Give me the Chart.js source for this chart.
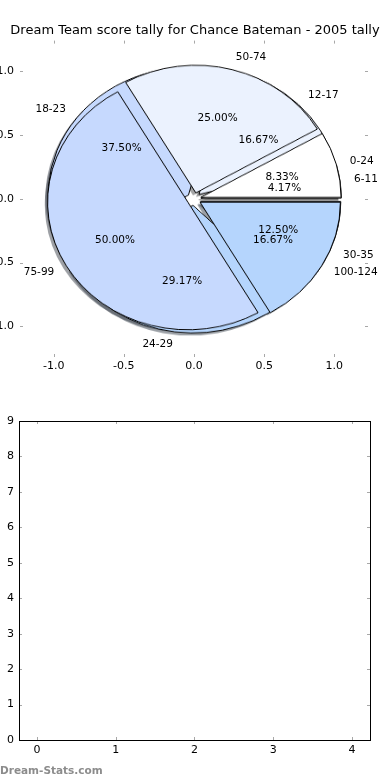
<!DOCTYPE html>
<html>
<head>
<meta charset="utf-8">
<script src="https://cdn.jsdelivr.net/npm/chart.js@4.4.0/dist/chart.umd.min.js"></script>
<style>
  html, body { margin: 0; padding: 0; background: #fff; overflow: hidden; }
  #page { position: relative; width: 390px; height: 780px; overflow: hidden; }
  #page canvas { position: absolute; }
  #pieAxes { left: 0; top: 0; z-index: 2; }
  #pieWrap { position: absolute; z-index: 1; }
  #pieWrap canvas { left: 0; top: 0; }
  #emptyAxes { left: 0; top: 380px; }
  #mark { position: absolute; left: 0; top: 764px; line-height: 12px;
          font: bold 10.5px "DejaVu Sans"; color: #8c8c8c; }
</style>
</head>
<body>
<div id="page">
  <div id="pieWrap">
    <canvas id="pieB"></canvas>
    <canvas id="pieA"></canvas>
  </div>
  <canvas id="pieAxes" width="390" height="380"></canvas>
  <canvas id="emptyAxes" width="390" height="400"></canvas>
  <div id="mark">Dream-Stats.com</div>
</div>
<script>
const chartTitle = 'Dream Team score tally for Chance Bateman - 2005 tally';

// pie drawn on top
const topPieLabels = ['0-24', '50-74', '75-99', '100-124'];
const topPieCounts = [1, 3, 6, 2];

// pie drawn underneath
const lowPieLabels = ['6-11', '12-17', '18-23', '24-29', '30-35'];
const lowPieCounts = [1, 4, 9, 7, 3];

const pieTicks = [-1.0, -0.5, 0.0, 0.5, 1.0];
const emptyXTicks = [0, 1, 2, 3, 4];
const emptyYTicks = [0, 1, 2, 3, 4, 5, 6, 7, 8, 9];

const sliceColors = ['#ffffff', '#ebf2fe', '#c6d9fe', '#b5d5fd', '#a6c9f9'];
const explode = 0.05;
const labelDist = 1.1;
const pctDist = 0.6;
const shadowOff = 0.02;
const FONT = 'DejaVu Sans';

// inward tick marks, like the old matplotlib style
function tickMarks(framed) {
    return {
        id: 'tickMarks',
        afterDraw(chart) {
            const {ctx, chartArea: a, scales: {x, y}} = chart;
            ctx.save();
            ctx.strokeStyle = '#a8a8a8';
            ctx.lineWidth = 1;
            ctx.beginPath();
            x.ticks.forEach(t => {
                const px = Math.round(x.getPixelForValue(t.value)) + 0.5;
                ctx.moveTo(px, a.top); ctx.lineTo(px, a.top + 3);
                ctx.moveTo(px, a.bottom); ctx.lineTo(px, a.bottom - 3);
            });
            y.ticks.forEach(t => {
                const py = Math.round(y.getPixelForValue(t.value)) + 0.5;
                ctx.moveTo(a.left, py); ctx.lineTo(a.left + 3, py);
                ctx.moveTo(a.right, py); ctx.lineTo(a.right - 3, py);
            });
            ctx.stroke();
            if (framed) {
                ctx.strokeStyle = '#000';
                ctx.strokeRect(Math.round(a.left) + 0.5, Math.round(a.top) + 0.5,
                    Math.round(a.right - a.left), Math.round(a.bottom - a.top));
            }
            ctx.restore();
        }
    };
}

// slice names and percentages, placed in data units like matplotlib does
const pieText = {
    id: 'pieText',
    afterDraw(chart) {
        const {ctx, scales: {x, y}} = chart;
        ctx.save();
        ctx.font = '10.5px "' + FONT + '"';
        ctx.fillStyle = '#000';
        ctx.textBaseline = 'middle';
        [[lowPieLabels, lowPieCounts], [topPieLabels, topPieCounts]].forEach(([labels, counts]) => {
            const total = counts.reduce((s, v) => s + v, 0);
            let start = 0;
            counts.forEach((v, i) => {
                const mid = (start + v / 2) / total * 2 * Math.PI;
                start += v;
                const c = Math.cos(mid), s = Math.sin(mid);
                const lx = (labelDist + explode) * c;
                const ly = (labelDist + explode) * s;
                ctx.textAlign = lx > 0 ? 'left' : 'right';
                ctx.fillText(labels[i], x.getPixelForValue(lx), y.getPixelForValue(ly));
                ctx.textAlign = 'center';
                ctx.fillText((v / total * 100).toFixed(2) + '%',
                    x.getPixelForValue((pctDist + explode) * c),
                    y.getPixelForValue((pctDist + explode) * s));
            });
        });
        ctx.restore();
    }
};

function axisTicks(pad, fmt) {
    return {
        color: '#000',
        padding: pad,
        font: {family: FONT, size: 11},
        callback: fmt
    };
}

const axesChart = new Chart(document.getElementById('pieAxes'), {
    type: 'scatter',
    data: {datasets: []},
    options: {
        responsive: false,
        animation: false,
        events: [],
        layout: {padding: 0},
        plugins: {
            legend: {display: false},
            tooltip: {enabled: false},
            title: {
                display: true,
                text: chartTitle,
                color: '#000',
                font: {family: FONT, size: 13, weight: 'normal'},
                padding: {top: 23, bottom: 2}
            }
        },
        scales: {
            x: {
                type: 'linear', min: -1.24, max: 1.24,
                afterBuildTicks: s => { s.ticks = pieTicks.map(v => ({value: v})); },
                afterFit: s => { s.height = 23; },
                grid: {display: false, drawTicks: false},
                border: {display: false},
                ticks: axisTicks(3, v => v.toFixed(1))
            },
            y: {
                type: 'linear', min: -1.24, max: 1.24,
                afterBuildTicks: s => { s.ticks = pieTicks.map(v => ({value: v})); },
                afterFit: s => { s.width = 20; },
                grid: {display: false, drawTicks: false},
                border: {display: false},
                ticks: axisTicks(6, v => v.toFixed(1))
            },
            // empty strip on the right so the title centres on the whole figure
            yRight: {
                type: 'linear', position: 'right', min: -1.24, max: 1.24,
                afterFit: s => { s.width = 22; },
                grid: {display: false, drawTicks: false},
                border: {display: false},
                ticks: {display: false}
            }
        }
    },
    plugins: [tickMarks(false), pieText]
});

// geometry of the pie taken from the axes scales
const sx = axesChart.scales.x, sy = axesChart.scales.y;
const rx = sx.getPixelForValue(1) - sx.getPixelForValue(0);
const ry = sy.getPixelForValue(0) - sy.getPixelForValue(1);
const side = Math.round(axesChart.chartArea.right - axesChart.chartArea.left);
const wrap = document.getElementById('pieWrap');
wrap.style.width = side + 'px';
wrap.style.height = side + 'px';
wrap.style.left = (sx.getPixelForValue(0) - side / 2) + 'px';
wrap.style.top = (sy.getPixelForValue(0) - side / 2) + 'px';
wrap.style.transform = 'scaleY(' + (ry / rx) + ')';
['pieA', 'pieB'].forEach(id => {
    const c = document.getElementById(id);
    c.width = side; c.height = side;
});

function midAngle(arc) { return (arc.startAngle + arc.endAngle) / 2; }

// pull every wedge out along its middle, no radius change
const explodePlugin = {
    id: 'explode',
    beforeDatasetDraw(chart, args) {
        const ctx = chart.ctx;
        args.meta.data.forEach(arc => {
            const m = midAngle(arc), d = explode * arc.outerRadius;
            ctx.save();
            ctx.translate(Math.cos(m) * d, Math.sin(m) * d);
            arc.draw(ctx);
            ctx.restore();
        });
        return false;
    }
};

function shade(hex) {
    const n = parseInt(hex.slice(1), 16);
    const r = Math.round(((n >> 16) & 255) * 0.3);
    const g = Math.round(((n >> 8) & 255) * 0.3);
    const b = Math.round((n & 255) * 0.3);
    return 'rgba(' + r + ',' + g + ',' + b + ',0.5)';
}

function pieConfig(labels, counts, extra) {
    return {
        type: 'pie',
        data: {
            labels: labels.slice().reverse(),
            datasets: [{
                data: counts.slice().reverse(),
                backgroundColor: sliceColors.slice(0, counts.length).reverse(),
                borderColor: '#000',
                borderWidth: 1
            }]
        },
        options: {
            responsive: false,
            animation: false,
            events: [],
            rotation: 90,
            radius: rx,
            layout: {padding: 0},
            plugins: {legend: {display: false}, tooltip: {enabled: false}, title: {display: false}}
        },
        plugins: extra.concat([explodePlugin])
    };
}

const topPie = new Chart(document.getElementById('pieA'), pieConfig(topPieLabels, topPieCounts, []));

// all shadows sit under both pies
const shadowPlugin = {
    id: 'pieShadow',
    beforeDatasetDraw(chart, args) {
        const ctx = chart.ctx;
        const arcs = args.meta.data.concat(topPie.getDatasetMeta(0).data);
        arcs.forEach(arc => {
            const m = midAngle(arc), d = explode * arc.outerRadius;
            const cx = arc.x + Math.cos(m) * d - shadowOff * arc.outerRadius;
            const cy = arc.y + Math.sin(m) * d + shadowOff * arc.outerRadius;
            ctx.beginPath();
            ctx.moveTo(cx, cy);
            ctx.arc(cx, cy, arc.outerRadius, arc.startAngle, arc.endAngle);
            ctx.closePath();
            ctx.fillStyle = shade(arc.options.backgroundColor);
            ctx.fill();
        });
    }
};

const lowPie = new Chart(document.getElementById('pieB'), pieConfig(lowPieLabels, lowPieCounts, [shadowPlugin]));

new Chart(document.getElementById('emptyAxes'), {
    type: 'scatter',
    data: {datasets: []},
    options: {
        responsive: false,
        animation: false,
        events: [],
        layout: {padding: {left: 0, right: 20, top: 41, bottom: 0}},
        plugins: {legend: {display: false}, tooltip: {enabled: false}},
        scales: {
            x: {
                type: 'linear', min: -0.23, max: 4.23,
                afterBuildTicks: s => { s.ticks = emptyXTicks.map(v => ({value: v})); },
                afterFit: s => { s.height = 40; },
                grid: {display: false, drawTicks: false},
                border: {display: false},
                ticks: axisTicks(4, v => String(v))
            },
            y: {
                type: 'linear', min: 0, max: 9,
                afterBuildTicks: s => { s.ticks = emptyYTicks.map(v => ({value: v})); },
                afterFit: s => { s.width = 19; },
                grid: {display: false, drawTicks: false},
                border: {display: false},
                ticks: axisTicks(5, v => String(v))
            }
        }
    },
    plugins: [tickMarks(true)]
});
</script>
</body>
</html>
